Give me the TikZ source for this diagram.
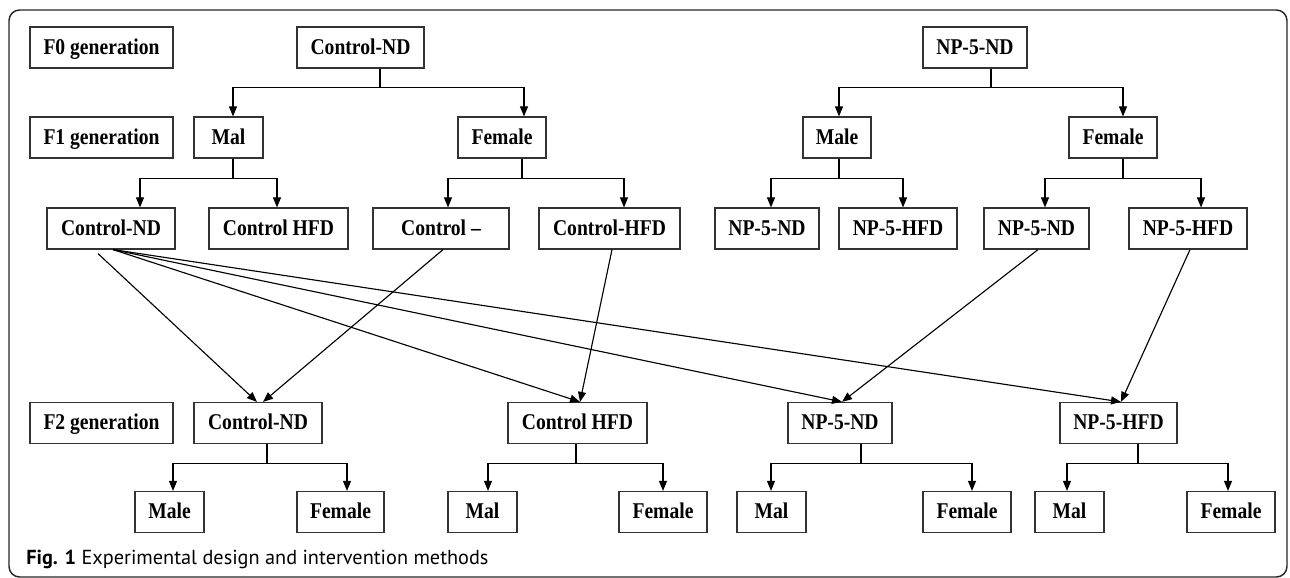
\documentclass[tikz,border=0pt]{standalone}
\usepackage{fontspec}
\setmainfont{Liberation Serif}[FakeStretch=0.87]
\newfontfamily\capfont{PT Sans}
\usetikzlibrary{arrows.meta,calc}

\begin{document}
\begin{tikzpicture}[x=0.75pt,y=-0.75pt,
  box/.style={draw=black!80,line width=0.9pt,minimum height=30.75pt,inner sep=0pt,
    text height=11.5pt,text depth=1.5pt,font=\fontsize{16.9}{19}\selectfont\bfseries},
  wd/.style={minimum width=#1*0.75pt},
  tree/.style={line width=0.85pt},
  arr/.style={line width=0.85pt,-{Triangle[length=7.5pt,width=6pt]}}]
\useasboundingbox (0,0) rectangle (1290,578);
\draw [line width=1.1pt,draw=black!85,rounded corners=8pt] (9,10) rectangle (1287,577);

% F0
\node[box,wd=143] (gen0) at (101.5,47.5) {F0 generation};
\node[box,wd=127] (cnd0) at (360.5,47.5) {Control-ND};
\node[box,wd=104] (np0) at (975,47.5) {NP-5-ND};

% F1
\node[box,wd=143] (gen1) at (101.5,137.5) {F1 generation};
\node[box,wd=69] (mal1) at (228.5,137.5) {Mal};
\node[box,wd=88] (fem1) at (502,137.5) {Female};
\node[box,wd=68] (male1) at (837,137.5) {Male};
\node[box,wd=88] (fem1r) at (1113,137.5) {Female};

\node[box,wd=128] (cnda) at (111,228.5) {Control-ND};
\node[box,wd=139] (chfa) at (278.5,228.5) {Control HFD};
\node[box,wd=136] (cdash) at (441,228.5) {Control --};
\node[box,wd=141] (chfb) at (609.5,228.5) {Control-HFD};
\node[box,wd=104] (npnda) at (767,228.5) {NP-5-ND};
\node[box,wd=118] (nphfa) at (898,228.5) {NP-5-HFD};
\node[box,wd=105] (npndb) at (1036.5,228.5) {NP-5-ND};
\node[box,wd=118] (nphfb) at (1188,228.5) {NP-5-HFD};

% F2
\node[box,wd=143] (gen2) at (101.5,423) {F2 generation};
\node[box,wd=128] (cnd2) at (258,423) {Control-ND};
\node[box,wd=139] (chf2) at (577.5,423) {Control HFD};
\node[box,wd=104] (npnd2) at (840,423) {NP-5-ND};
\node[box,wd=117] (nphf2) at (1118.5,423) {NP-5-HFD};

\node[box,wd=69] (ma) at (169.5,512) {Male};
\node[box,wd=87] (fa) at (340.5,512) {Female};
\node[box,wd=69] (mb) at (482.5,512) {Mal};
\node[box,wd=88] (fb) at (663,512) {Female};
\node[box,wd=69] (mc) at (771.5,512) {Mal};
\node[box,wd=88] (fc) at (967,512) {Female};
\node[box,wd=69] (md) at (1069.5,512) {Mal};
\node[box,wd=88] (fd) at (1231,512) {Female};

% branches
\draw[tree] ($(cnd0.south)+(19.5,0)$) -- ++(0,19) coordinate (b0);
\draw[arr] (b0) -| ($(mal1.north)+(4.5,0)$);
\draw[arr] (b0) -| ($(fem1.north)+(22,0)$);
\draw[tree] ($(np0.south)+(16,0)$) -- ++(0,19) coordinate (b1);
\draw[arr] (b1) -| ($(male1.north)+(2,0)$);
\draw[arr] (b1) -| ($(fem1r.north)+(10,0)$);

\draw[tree] ($(mal1.south)+(4.5,0)$) -- ++(0,20) coordinate (b2);
\draw[arr] (b2) -| ($(cnda.north)+(29,0)$);
\draw[arr] (b2) -| ($(chfa.north)+(-1.5,0)$);
\draw[tree] ($(fem1.south)+(20,0)$) -- ++(0,20) coordinate (b3);
\draw[arr] (b3) -| ($(cdash.north)+(7,0)$);
\draw[arr] (b3) -| ($(chfb.north)+(14.5,0)$);
\draw[tree] ($(male1.south)+(2,0)$) -- ++(0,20) coordinate (b4);
\draw[arr] (b4) -| ($(npnda.north)+(4,0)$);
\draw[arr] (b4) -| ($(nphfa.north)+(5,0)$);
\draw[tree] ($(fem1r.south)+(10,0)$) -- ++(0,20) coordinate (b5);
\draw[arr] (b5) -| ($(npndb.north)+(8.5,0)$);
\draw[arr] (b5) -| ($(nphfb.north)+(13,0)$);

\draw[tree] ($(cnd2.south)+(9,0)$) -- ++(0,19) coordinate (b6);
\draw[arr] (b6) -| ($(ma.north)+(3.5,0)$);
\draw[arr] (b6) -| ($(fa.north)+(6.5,0)$);
\draw[tree] ($(chf2.south)+(-1.5,0)$) -- ++(0,19) coordinate (b7);
\draw[arr] (b7) -| ($(mb.north)+(5.5,0)$);
\draw[arr] (b7) -| (fb.north);
\draw[tree] ($(npnd2.south)+(21,0)$) -- ++(0,19) coordinate (b8);
\draw[arr] (b8) -| ($(mc.north)+(-0.5,0)$);
\draw[arr] (b8) -| ($(fc.north)+(5,0)$);
\draw[tree] ($(nphf2.south)+(19.5,0)$) -- ++(0,19) coordinate (b9);
\draw[arr] (b9) -| ($(md.north)+(-2.5,0)$);
\draw[arr] (b9) -| ($(fd.north)+(-3,0)$);

% crossings
\draw[arr] ($(cnda.south)+(-13,4)$) -- ($(cnd2.north)+(-1,0)$);
\draw[arr] ($(cnda.south)+(2,0)$) -- ($(chf2.north)+(2.5,0)$);
\draw[arr] ($(cnda.south)+(2,0)$) -- ($(npnd2.north)+(2,0)$);
\draw[arr] ($(cnda.south)+(2,0)$) -- ($(nphf2.north)+(2.5,0)$);
\draw[arr] ($(cdash.south)+(2,0)$) -- ($(cnd2.north)+(5,0)$);
\draw[arr] ($(chfb.south)+(2.5,0)$) -- ($(chf2.north)+(2.5,0)$);
\draw[arr] ($(npndb.south)+(1.5,0)$) -- ($(npnd2.north)+(2,0)$);
\draw[arr] ($(nphfb.south)+(2,0)$) -- ($(nphf2.north)+(2.5,0)$);

\node[anchor=west,inner sep=0pt,font=\capfont\fontsize{15.2}{17}\selectfont] (cap) at (26,559)
  {\textbf{Fig. 1} Experimental design and intervention methods};
\end{tikzpicture}
\end{document}
